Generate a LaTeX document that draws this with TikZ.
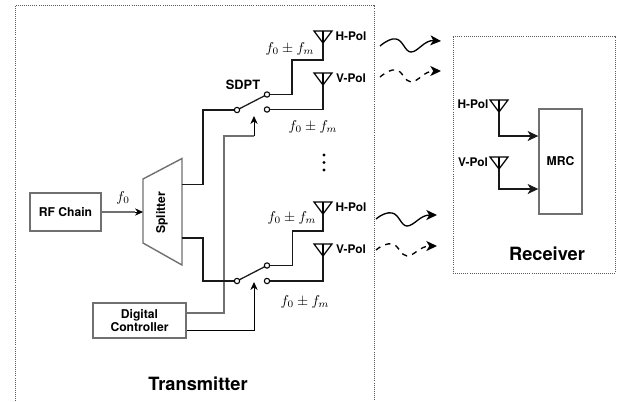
\documentclass[tikz,border=0pt]{standalone}
\usepackage[no-math]{fontspec}
\setmainfont{TeX Gyre Heros}
\usetikzlibrary{arrows.meta,calc}
\definecolor{boxgray}{HTML}{707070}
\newcommand{\fpm}{\scalebox{1.07}{$f_0\pm f_m$}}
\tikzset{
  x=0.75pt,y=-0.75pt,
  blockbox/.style={draw=boxgray,line width=1.05pt,fill=white,inner sep=0pt,font=\fontsize{9.1}{11}\selectfont\bfseries,align=center},
  container/.style={draw=black!65,line width=0.55pt,densely dotted},
  wire/.style={draw=black!90,line width=0.95pt},
  thinwire/.style={draw=black,line width=0.7pt},
  graywire/.style={draw=boxgray,line width=0.9pt},
  tip/.style={-{Stealth[length=6pt,width=5.5pt]}},
  bigtip/.style={-{Stealth[length=8pt,width=7.5pt,inset=2.2pt]}},
  contact/.style={circle,draw=black,line width=0.8pt,fill=white,inner sep=0pt,minimum size=4pt},
  pol/.style={font=\fontsize{8.9}{10}\selectfont\bfseries,inner sep=0pt},
  freq/.style={inner sep=0pt},
  title/.style={font=\fontsize{13.7}{16}\selectfont\bfseries,inner sep=0pt},
  wave/.style={line width=1pt,bigtip},
  wavedash/.style={line width=1pt,bigtip,dash pattern=on 4pt off 4pt},
  pics/antenna/.style={code={
    \draw[line width=0.95pt,line join=miter] (-9,-12) -- (9,-12) -- (0,0) -- cycle;
    \draw[line width=0.8pt] (0,-12) -- (0,0);
  }}
}
\begin{document}
\begin{tikzpicture}
\useasboundingbox (0,0) rectangle (617,401);
% containers
\coordinate (txa) at (15,401); \coordinate (txb) at (15,5);
\coordinate (txc) at (374,5); \coordinate (txd) at (374,401);
\draw[container] (txa) -- (txb) -- (txc) -- (txd);
\node[container,minimum width=0.75*162pt,minimum height=0.75*237pt,inner sep=0pt] (rx) at (534,154.5) {};
\node[title] (txlabel) at (198,384) {Transmitter};
\node[title] (rxlabel) at (547,254) {Receiver};
% blocks
\node[blockbox,minimum width=0.75*71pt,minimum height=0.75*38pt] (rf) at (65.5,212) {RF Chain};
\node[blockbox,minimum width=0.75*93pt,minimum height=0.75*35pt] (dc) at (139.5,320.5) {Digital\\[-1pt]Controller};
\node[blockbox,minimum width=0.75*43pt,minimum height=0.75*105pt] (mrc) at (560.5,161.5) {MRC};
% splitter
\draw[draw=boxgray,line width=1.05pt] (143,179) -- (182,158.5) -- (182,265) -- (143,243) -- cycle;
\node[font=\fontsize{9.1}{11}\selectfont\bfseries,rotate=90,inner sep=0pt] (split) at (162,213) {Splitter};
\coordinate (spin) at (143,212);
\coordinate (spa) at (182,184.5);
\coordinate (spb) at (182,238);
\draw[graywire] (rf.east |- spin) -- (135,212);
\draw[draw=black,line width=0.7pt,tip] (135,212) -- (spin);
\node[freq] (f0) at (123,198) {\scalebox{1.07}{$f_0$}};
% contacts
\coordinate (s1cc) at (237,110);
\coordinate (s1uc) at (267,94.5);
\coordinate (s1dc) at (267,109.5);
\coordinate (s2cc) at (237,281);
\coordinate (s2uc) at (267,265.5);
\coordinate (s2dc) at (267,281);
% antennas
\coordinate (a1) at (323,43); \pic at (a1) {antenna};
\coordinate (a2) at (323,85); \pic at (a2) {antenna};
\coordinate (a3) at (323,214); \pic at (a3) {antenna};
\coordinate (a4) at (323,256); \pic at (a4) {antenna};
\coordinate (a5) at (499,112); \pic at (a5) {antenna};
\coordinate (a6) at (499,169); \pic at (a6) {antenna};
% control wires
\coordinate (c1t) at (254,116);
\coordinate (c2t) at (254,282);
\draw[graywire] (dc.east |- 0,313) -| (224,136) -- (254,136);
\draw[thinwire,tip] (254,136) -- (c1t);
\draw[thinwire,tip] (dc.east |- 0,330) -| (c2t);
% signal wires
\draw[wire] (spa) -| (203,110) -- (s1cc);
\draw[wire] (spb) -| (203,281) -- (s2cc);
\draw[wire] (s1cc) -- (s1uc);
\draw[wire] (s2cc) -- (s2uc);
\draw[wire] (s1uc) -- (292,94.5) -- (292,60) -| (a1);
\draw[wire] (s1dc) -| (a2);
\draw[wire] (s2uc) -- (292.5,265.5) -- (292.5,231) -| (a3);
\draw[wire] (s2dc) -| (a4);
\draw[wire,bigtip] (a5) |- (mrc.west |- 0,136);
\draw[wire,bigtip] (a6) |- (mrc.west |- 0,189);
\node[contact] (s1c) at (s1cc) {};
\node[contact] (s1u) at (s1uc) {};
\node[contact] (s1d) at (s1dc) {};
\node[contact] (s2c) at (s2cc) {};
\node[contact] (s2u) at (s2uc) {};
\node[contact] (s2d) at (s2dc) {};
% labels
\node[pol] (h1) at (351,36) {H-Pol};
\node[pol] (v1) at (351,78) {V-Pol};
\node[pol] (h2) at (351,207) {H-Pol};
\node[pol] (v2) at (351,249) {V-Pol};
\node[pol] (h3) at (473,104) {H-Pol};
\node[pol] (v3) at (473,162) {V-Pol};
\node[font=\fontsize{9.6}{11}\selectfont\bfseries,inner sep=0pt] (sdpt) at (243,85) {SDPT};
\node[freq] (l1) at (290,49) {\fpm};
\node[freq] (l2) at (313,127) {\fpm};
\node[freq] (l3) at (292,218) {\fpm};
\node[freq] (l4) at (305,302) {\fpm};
% dots
\fill (324,155) circle (1.6) (324,162.5) circle (1.6) (324,170) circle (1.6);
% waves
\coordinate (w1a) at (380,46); \coordinate (w1b) at (441,41);
\coordinate (w2a) at (380,77); \coordinate (w2b) at (441,71);
\coordinate (w3a) at (376,219); \coordinate (w3b) at (437,215);
\coordinate (w4a) at (376,250); \coordinate (w4b) at (437,246);
\draw[wave] (w1a) .. controls (386,41) and (392,38) .. (396,39) .. controls (403,40) and (405,52) .. (411,52) .. controls (418,52) and (424,40) .. (w1b);
\draw[wavedash] (w2a) .. controls (386,72) and (392,69) .. (396,70) .. controls (403,71) and (405,82) .. (411,82) .. controls (418,82) and (424,71) .. (w2b);
\draw[wave] (w3a) .. controls (382,214) and (388,212) .. (392,213) .. controls (399,214) and (401,226) .. (407,226) .. controls (414,226) and (420,215) .. (w3b);
\draw[wavedash] (w4a) .. controls (382,245) and (388,243) .. (392,244) .. controls (399,245) and (401,256) .. (407,256) .. controls (414,256) and (420,246) .. (w4b);
\end{tikzpicture}
\end{document}
